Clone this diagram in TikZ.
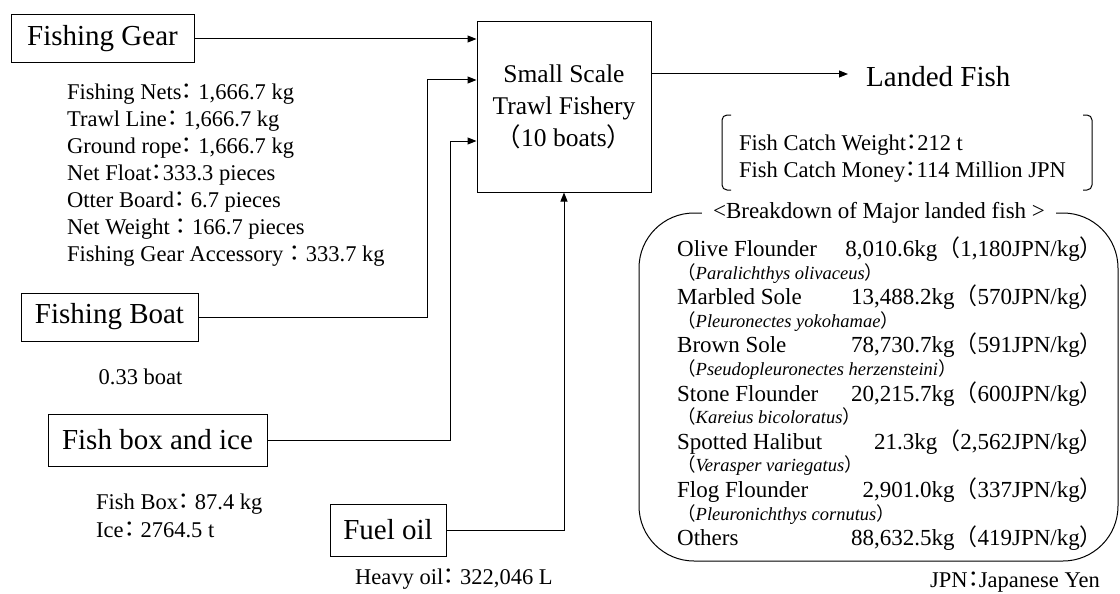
\documentclass[tikz,border=0pt]{standalone}
\usepackage{fontspec}
\setmainfont{Liberation Serif}
\newfontfamily\cjk{Noto Sans CJK JP}
\newfontfamily\cjkh[RawFeature=+halt]{Noto Sans CJK JP}
\usetikzlibrary{arrows.meta}

\newcommand{\zc}{{\cjkh ：}}
\newcommand{\zl}{{\cjk （}}
\newcommand{\zr}{{\cjk ）}}

\tikzset{
  inbox/.style={draw, line width=1pt, inner sep=0pt, font=\fontsize{29}{34}\selectfont},
  arr/.style={line width=1pt, -{Triangle[length=9pt,width=7pt]}},
  link/.style={line width=1pt},
  note/.style={inner sep=0pt, align=left, font=\fontsize{22.5}{27}\selectfont},
  fishname/.style={inner sep=0pt, anchor=base west, font=\fontsize{23}{27}\selectfont},
  fishkg/.style={inner sep=0pt, anchor=base east, font=\fontsize{23}{27}\selectfont},
  latin/.style={inner sep=0pt, anchor=base west, font=\fontsize{18.5}{22}\selectfont},
}

\begin{document}
\begin{tikzpicture}[x=1pt, y=-1pt]
    \useasboundingbox (0,0) rectangle (1120,594);

    % the fishery in the middle
    \node[draw, line width=1pt, minimum width=174pt, minimum height=170pt, align=center,
        font=\fontsize{25.5}{32}\selectfont] (fishery) at (564,107) {Small Scale\\Trawl Fishery\\\zl 10 boats\zr};

    % inputs
    \node[inbox, minimum width=183pt, minimum height=48pt] (gear) at (102.5,39) {Fishing Gear};
    \node[inbox, minimum width=177pt, minimum height=48pt] (boat) at (109.5,317) {Fishing Boat};
    \node[inbox, minimum width=219pt, minimum height=52pt] (icebox) at (157.5,440) {Fish box and ice};
    \node[inbox, minimum width=116pt, minimum height=52pt] (fuel) at (388,530) {Fuel oil};

    % amounts under each input
    \node[note, anchor=north west] (gearlist) at (67,84) {Fishing Nets\zc\ 1,666.7 kg\\
        Trawl Line\zc\ 1,666.7 kg\\
        Ground rope\zc\ 1,666.7 kg\\
        Net Float\zc 333.3 pieces\\
        Otter Board\zc\ 6.7 pieces\\
        Net Weight \zc\ 166.7 pieces\\
        Fishing Gear Accessory \zc\ 333.7 kg};
    \node[note] (boatnum) at (140.5,377) {0.33 boat};
    \node[note, anchor=north west, font=\fontsize{22.5}{28}\selectfont] (icelist) at (96,494) {Fish Box\zc\ 87.4 kg\\Ice\zc\ 2764.5 t};
    \node[note, anchor=west] (fuelnum) at (355,579) {Heavy oil\zc\ 322,046 L};

    % arrows into the fishery
    \coordinate (inA) at (fishery.west |- gear);
    \coordinate (inB) at ([yshift=27pt]fishery.west);
    \coordinate (inC) at ([yshift=-34pt]fishery.west);
    \draw[arr] (gear) -- (inA);
    \draw[arr] (boat) -| ([xshift=-49pt]inB) -- (inB);
    \draw[arr] (icebox) -| ([xshift=-26pt]inC) -- (inC);
    \draw[arr] (fuel) -| (fishery);

    % output
    \node[inner sep=0pt, anchor=west, font=\fontsize{29}{34}\selectfont] (landed) at (866,77) {Landed Fish};
    \coordinate (out) at ([yshift=33pt]fishery.east);
    \coordinate (outend) at (848,74);
    \draw[arr] (out) -- (outend);

    % catch in brackets
    \node[note, anchor=north west] (catch) at (739,135) {Fish Catch Weight\zc 212 t\\Fish Catch Money\zc 114 Million JPN};
    \draw[link, rounded corners=5pt] (731,115) -- (722,115) -- (722,190) -- (731,190);
    \draw[link, rounded corners=5pt] (1083,115) -- (1092,115) -- (1092,190) -- (1083,190);

    % breakdown of landed fish
    \draw[link, rounded corners=55pt] (639,213) rectangle (1118,561);
    \node[fill=white, inner xsep=11pt, inner ysep=2pt, font=\fontsize{23}{27}\selectfont] (title) at (879,213) {<Breakdown of Major landed fish >};

    \node[fishname] (olive) at (677,256.5) {Olive Flounder};
    \node[fishkg] (olivekg) at (1103,256.5) {8,010.6kg\zl 1,180JPN/kg\zr};
    \node[latin] (olivesci) at (677,279) {\zl\textit{Paralichthys olivaceus}\zr};

    \node[fishname] (marbled) at (677,304.7) {Marbled Sole};
    \node[fishkg] (marbledkg) at (1103,304.7) {13,488.2kg\zl 570JPN/kg\zr};
    \node[latin] (marbledsci) at (677,327.2) {\zl\textit{Pleuronectes yokohamae}\zr};

    \node[fishname] (brown) at (677,352.9) {Brown Sole};
    \node[fishkg] (brownkg) at (1103,352.9) {78,730.7kg\zl 591JPN/kg\zr};
    \node[latin] (brownsci) at (677,375.4) {\zl\textit{Pseudopleuronectes herzensteini}\zr};

    \node[fishname] (stone) at (677,401.1) {Stone Flounder};
    \node[fishkg] (stonekg) at (1103,401.1) {20,215.7kg\zl 600JPN/kg\zr};
    \node[latin] (stonesci) at (677,423.6) {\zl\textit{Kareius bicoloratus}\zr};

    \node[fishname] (spotted) at (677,449.3) {Spotted Halibut};
    \node[fishkg] (spottedkg) at (1103,449.3) {21.3kg\zl 2,562JPN/kg\zr};
    \node[latin] (spottedsci) at (677,471.8) {\zl\textit{Verasper variegatus}\zr};

    \node[fishname] (flog) at (677,497.5) {Flog Flounder};
    \node[fishkg] (flogkg) at (1103,497.5) {2,901.0kg\zl 337JPN/kg\zr};
    \node[latin] (flogsci) at (677,520) {\zl\textit{Pleuronichthys cornutus}\zr};

    \node[fishname] (others) at (677,545.7) {Others};
    \node[fishkg] (otherskg) at (1103,545.7) {88,632.5kg\zl 419JPN/kg\zr};

    \node[note, anchor=base east] (yen) at (1100,587) {JPN\zc Japanese Yen};
\end{tikzpicture}
\end{document}
